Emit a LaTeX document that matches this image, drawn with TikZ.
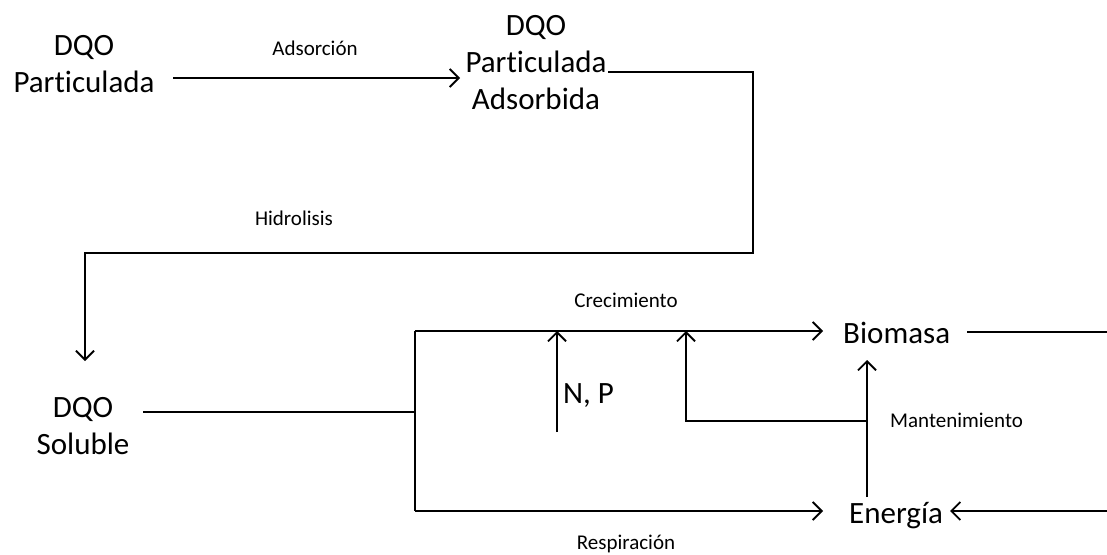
\documentclass[tikz,border=0pt]{standalone}
\usepackage{fontspec}
\setmainfont[Ligatures=NoCommon]{Carlito}
\usetikzlibrary{arrows.meta}
\begin{document}
\begin{tikzpicture}[x=1pt,y=-1pt,
  big/.style={font=\fontsize{31}{37}\selectfont, inner sep=0pt, align=center},
  small/.style={font=\fontsize{21}{25}\selectfont, inner sep=0pt},
  ln/.style={line width=2pt},
  arr/.style={ln, -{Straight Barb[length=9pt,width=18pt,line width=1.8pt]}}]
\useasboundingbox (0,0) rectangle (1107,554);
% text nodes
\node[big, anchor=north] (dqop) at (84,35) {DQO\\Particulada};
\node[big, anchor=north] (dqopa) at (536,15) {DQO\\Particulada\\Adsorbida};
\node[big, anchor=north] (dqos) at (83,397) {DQO\\Soluble};
\node[big, anchor=base west] (bio) at (843,343) {Biomasa};
\node[big, anchor=base west] (ener) at (849,523) {Energía};
\node[small, anchor=base] (lads) at (315,55) {Adsorción};
\node[small, anchor=base] (lhid) at (294,225) {Hidrolisis};
\node[small, anchor=base] (lcre) at (626,307) {Crecimiento};
\node[small, anchor=base] (lres) at (626,549) {Respiración};
\node[small, anchor=base west] (lman) at (890,427) {Mantenimiento};
\node[big, anchor=base west] (lnp) at (563,403) {N, P};
% coordinates
\coordinate (a1) at (173,78);
\coordinate (a2) at (460,78);
\coordinate (h1) at (608,72);
\coordinate (h2) at (753,72);
\coordinate (h3) at (753,253);
\coordinate (h4) at (85,253);
\coordinate (h5) at (85,361);
\coordinate (s1) at (143,412);
\coordinate (jmid) at (415,412);
\coordinate (jtop) at (415,331);
\coordinate (jbot) at (415,511);
\coordinate (bt) at (823,331);
\coordinate (et) at (823,511);
\coordinate (br1) at (967,332);
\coordinate (br2) at (1107,332);
\coordinate (er1) at (1107,511);
\coordinate (er2) at (950,511);
\coordinate (m1) at (867,497);
\coordinate (m2) at (867,360);
\coordinate (mj) at (867,421);
\coordinate (mc) at (686,421);
\coordinate (mt) at (686,331);
\coordinate (n1) at (557,432);
\coordinate (n2) at (557,331);
% connectors
\draw[arr] (a1) -- (a2);
\draw[arr] (h1) -- (h2) -- (h3) -- (h4) -- (h5);
\draw[ln] (s1) -- (jmid);
\draw[ln] (jtop) -- (jbot);
\draw[arr] (jtop) -- (bt);
\draw[arr] (jbot) -- (et);
\draw[ln] (br1) -- (br2);
\draw[arr] (er1) -- (er2);
\draw[arr] (m1) -- (m2);
\draw[arr] (mj) -- (mc) -- (mt);
\draw[arr] (n1) -- (n2);
\end{tikzpicture}
\end{document}
